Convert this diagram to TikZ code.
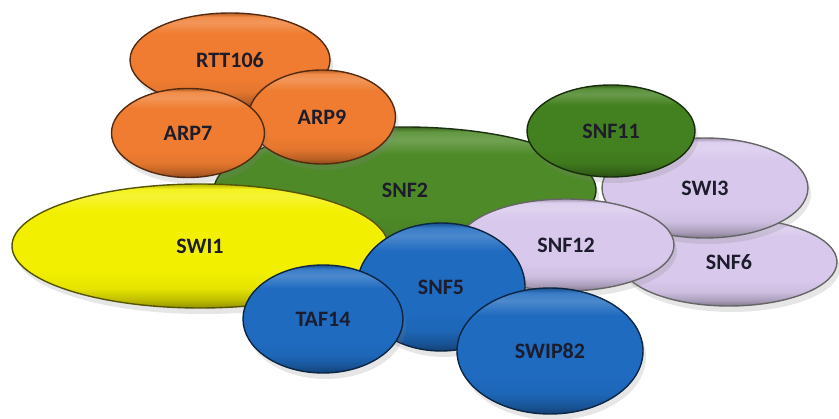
\documentclass[tikz,border=0pt]{standalone}
\usepackage{fontspec}
\setmainfont{Carlito}
\usetikzlibrary{shapes.geometric,shadows}
\definecolor{orangeC}{HTML}{EF7C30}
\definecolor{greenC}{HTML}{4E8A28}
\definecolor{dgreenC}{HTML}{43801F}
\definecolor{lavC}{HTML}{D8C8EC}
\definecolor{yellowC}{HTML}{F2F000}
\definecolor{blueC}{HTML}{1F6BC0}
\definecolor{txtC}{HTML}{1C1C2C}
\colorlet{bcol}{orangeC}
\pgfdeclareverticalshading[bcol]{bevel}{100bp}{%
  color(0bp)=(bcol!60!black); color(25bp)=(bcol!60!black);
  color(28bp)=(bcol!78!black); color(33bp)=(bcol!95!black);
  color(40bp)=(bcol); color(64bp)=(bcol);
  color(70bp)=(bcol!80!white); color(73bp)=(bcol!88!white);
  color(75bp)=(bcol!75!black); color(100bp)=(bcol!75!black)}
\begin{document}
\begin{tikzpicture}[x=1pt,y=-1pt,
  blob/.style={ellipse, draw=#1!35!black, line width=1.4pt,
    /utils/exec={\colorlet{bcol}{#1}}, shading=bevel,
    inner sep=0pt, font=\fontsize{22}{24}\selectfont\bfseries, text=txtC,
    drop shadow={opacity=0.2, shadow xshift=3pt, shadow yshift=-6pt}},
  lav/.style={ellipse, draw=black!60, line width=1.4pt,
    /utils/exec={\colorlet{bcol}{lavC}}, shading=bevel,
    inner sep=0pt, font=\fontsize{22}{24}\selectfont\bfseries, text=txtC,
    drop shadow={opacity=0.2, shadow xshift=3pt, shadow yshift=-6pt}},
]
\useasboundingbox (0,0) rectangle (839,419);
\node[blob=greenC, minimum width=382pt, minimum height=126pt] (snf2) at (405,190) {SNF2};
\node[blob=orangeC, minimum width=200pt, minimum height=94pt] (rtt) at (230,60) {RTT106};
\node[blob=orangeC, minimum width=147pt, minimum height=94pt] (arp9) at (322,117) {ARP9};
\node[blob=orangeC, minimum width=153pt, minimum height=89pt] (arp7) at (188,133) {ARP7};
\node[lav, minimum width=216pt, minimum height=88pt] (snf6) at (729,262) {SNF6};
\node[lav, minimum width=206pt, minimum height=100pt] (swi3) at (705,188) {SWI3};
\node[blob=dgreenC, minimum width=168pt, minimum height=92pt] (snf11) at (611,131) {SNF11};
\node[lav, minimum width=216pt, minimum height=92pt] (snf12) at (566,245) {SNF12};
\node[blob=yellowC, minimum width=376pt, minimum height=124pt] (swi1) at (200,246) {SWI1};
\node[blob=blueC, minimum width=168pt, minimum height=128pt] (snf5) at (441,287) {SNF5};
\node[blob=blueC, minimum width=160pt, minimum height=108pt] (taf14) at (323,319) {TAF14};
\node[blob=blueC, minimum width=186pt, minimum height=126pt] (swip82) at (550,351) {SWIP82};
\end{tikzpicture}
\end{document}
